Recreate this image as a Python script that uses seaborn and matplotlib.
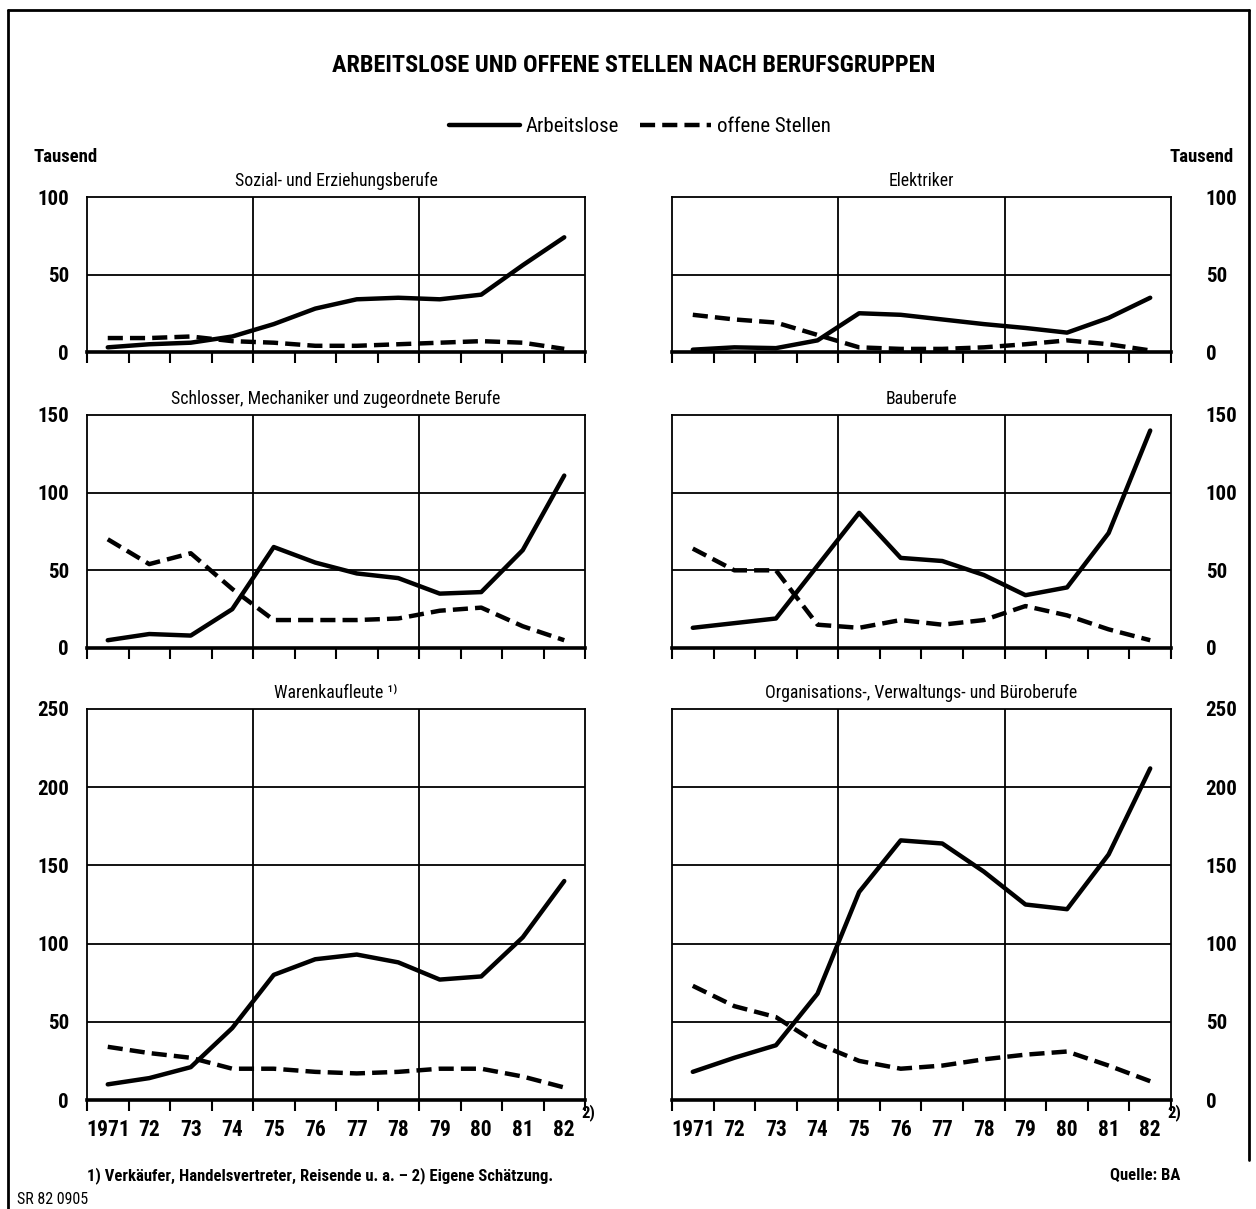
import numpy as np
import pandas as pd
import matplotlib
matplotlib.use("Agg")
import matplotlib.pyplot as plt
import seaborn as sns
from matplotlib.lines import Line2D
from matplotlib import font_manager

# Werte in Tausend, Jahresdurchschnitte 1971-1982
years = list(range(1971, 1983))
year_labels = ["1971", "72", "73", "74", "75", "76", "77", "78", "79", "80", "81", "82"]

sozial_al = [3, 5, 6, 10, 18, 28, 34, 35, 34, 37, 56, 74]
sozial_os = [9, 9, 10, 7, 6, 4, 4, 5, 6, 7, 6, 2]
elektr_al = [1.5, 3, 2.5, 7.5, 25, 24, 21, 18, 15.5, 12.5, 22, 35]
elektr_os = [24, 21, 19, 11, 3, 2, 2, 3, 5, 7.5, 5, 1]
schlosser_al = [5, 9, 8, 25, 65, 55, 48, 45, 35, 36, 63, 111]
schlosser_os = [70, 54, 61, 38, 18, 18, 18, 19, 24, 26, 14, 5]
bau_al = [13, 16, 19, 53, 87, 58, 56, 47, 34, 39, 74, 140]
bau_os = [64, 50, 50, 15, 13, 18, 15, 18, 27, 21, 12, 5]
waren_al = [10, 14, 21, 46, 80, 90, 93, 88, 77, 79, 104, 140]
waren_os = [34, 30, 27, 20, 20, 18, 17, 18, 20, 20, 15, 8]
org_al = [18, 27, 35, 68, 133, 166, 164, 146, 125, 122, 157, 212]
org_os = [73, 60, 53, 36, 25, 20, 22, 26, 29, 31, 22, 12]

panel_titles = ["Sozial- und Erziehungsberufe", "Elektriker",
                "Schlosser, Mechaniker und zugeordnete Berufe", "Bauberufe",
                "Warenkaufleute ¹⁾", "Organisations-, Verwaltungs- und Büroberufe"]
panel_data = [(sozial_al, sozial_os), (elektr_al, elektr_os),
              (schlosser_al, schlosser_os), (bau_al, bau_os),
              (waren_al, waren_os), (org_al, org_os)]
panel_ymax = [100, 100, 150, 150, 250, 250]

sns.set_style("white")
# schmale Schrift, falls vorhanden
installed = {f.name for f in font_manager.fontManager.ttflist}
narrow = [n for n in ("Liberation Sans Narrow", "Roboto Condensed", "Open Sans Condensed")
          if n in installed]
plt.rcParams['font.family'] = narrow + ['DejaVu Sans']
plt.rcParams['font.stretch'] = 'condensed'
plt.rcParams['font.weight'] = 'bold'
for key in ("text.color", "axes.labelcolor", "xtick.color", "ytick.color"):
    plt.rcParams[key] = "black"

W, H = 1256, 1209
fig = plt.figure(figsize=(W / 100, H / 100), dpi=100)


def fx(x):
    return x / W


def fy(y):
    return 1 - y / H


# Achsen-Positionen in Pixeln (links, oben, rechts, unten)
cols = [(87, 585), (672, 1171)]
rows = [(197, 352), (415, 648), (709, 1100)]

dash_style = {"Arbeitslose": "", "offene Stellen": (3.4, 1.6)}

for i in range(6):
    r, c = divmod(i, 2)
    x0, x1 = cols[c]
    y0, y1 = rows[r]
    ax = fig.add_axes([fx(x0), fy(y1), (x1 - x0) / W, (y1 - y0) / H])

    al, os_ = panel_data[i]
    df = pd.DataFrame({
        "Jahr": [y + 0.5 for y in years] * 2,
        "Tausend": al + os_,
        "Reihe": ["Arbeitslose"] * 12 + ["offene Stellen"] * 12,
    })
    sns.lineplot(data=df, x="Jahr", y="Tausend", style="Reihe", dashes=dash_style,
                 color="black", linewidth=3.2, legend=False, ax=ax, zorder=3)

    ymax = panel_ymax[i]
    ax.set_xlim(1971, 1983)
    ax.set_ylim(0, ymax)
    ax.set_xlabel("")
    ax.set_ylabel("")

    # Gitter
    for yv in range(50, ymax, 50):
        ax.axhline(yv, color="black", lw=1.3, zorder=1)
    for xv in (1975, 1979):
        ax.axvline(xv, color="black", lw=1.3, zorder=1)

    for side in ("top", "left", "right"):
        ax.spines[side].set_linewidth(1.3)
        ax.spines[side].set_color("black")
    ax.spines["bottom"].set_linewidth(2.6)
    ax.spines["bottom"].set_color("black")

    # x-Achse: Striche an den Jahresgrenzen, Beschriftung in der Mitte
    ax.set_xticks(range(1971, 1984))
    ax.set_xticklabels([])
    ax.tick_params(axis="x", which="major", direction="out", length=8, width=1.5,
                   color="black", bottom=True)
    ax.set_xticks([y + 0.5 for y in years], minor=True)
    if r == 2:
        ax.set_xticklabels(year_labels, minor=True, fontsize=15.5, fontweight="bold")
        ax.text(1982.92, -0.033, "2)", transform=ax.get_xaxis_transform(),
                fontsize=12, ha="left", va="center")
    else:
        ax.set_xticklabels([], minor=True)
    ax.tick_params(axis="x", which="minor", length=0, pad=14)

    # y-Achse
    ax.set_yticks(range(0, ymax + 1, 50))
    ax.set_yticklabels([str(v) for v in range(0, ymax + 1, 50)], fontsize=15,
                       fontweight="bold")
    if c == 0:
        ax.tick_params(axis="y", length=0, pad=13, left=True, right=False,
                       labelleft=True, labelright=False)
    else:
        ax.tick_params(axis="y", length=0, pad=25, left=False, right=True,
                       labelleft=False, labelright=True)

    ax.set_title(panel_titles[i], fontsize=12.8, fontweight="normal", pad=8)

# Titel, Legende, Texte
fig.text(fx(634), fy(66), "ARBEITSLOSE UND OFFENE STELLEN NACH BERUFSGRUPPEN",
         ha="center", va="center", fontsize=17.5, fontweight="bold")

handles = [Line2D([], [], color="black", lw=3.2),
           Line2D([], [], color="black", lw=3.2, dashes=(3.4, 1.6))]
fig.legend(handles, ["Arbeitslose", "offene Stellen"], loc="center",
           bbox_to_anchor=(fx(640), fy(127)), ncol=2, frameon=False,
           handlelength=3.4, columnspacing=1.0, handletextpad=0.3,
           prop={"weight": "normal", "size": 15, "stretch": "condensed"})

fig.text(fx(33), fy(157), "Tausend", ha="left", va="center", fontsize=13.5)
fig.text(fx(1234), fy(157), "Tausend", ha="right", va="center", fontsize=13.5)

fig.text(fx(87), fy(1176), "1) Verkäufer, Handelsvertreter, Reisende u. a. – 2) Eigene Schätzung.",
         ha="left", va="center", fontsize=12)
fig.text(fx(1180), fy(1176), "Quelle: BA", ha="right", va="center", fontsize=12)
fig.text(fx(17), fy(1200), "SR 82 0905", ha="left", va="center", fontsize=11.5,
         fontweight="normal")

# Rahmen um die Grafik
frame = dict(color="black", lw=2.0, transform=fig.transFigure)
fig.add_artist(Line2D([fx(8), fx(8)], [fy(10), fy(1209)], **frame))
fig.add_artist(Line2D([fx(8), fx(1249)], [fy(10), fy(10)], **frame))
fig.add_artist(Line2D([fx(1249), fx(1249)], [fy(10), fy(1160)], **frame))

fig.savefig("out.png", dpi=100)
